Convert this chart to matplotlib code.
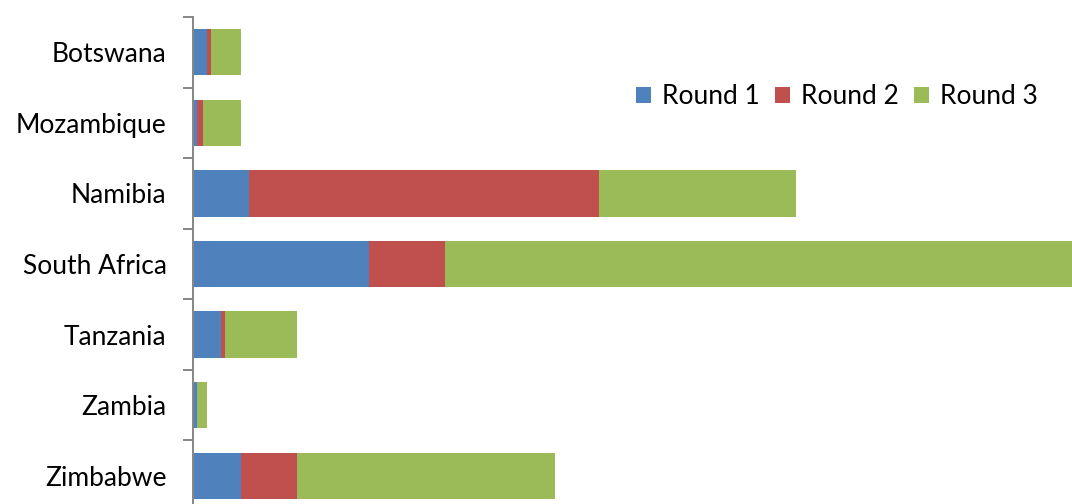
import matplotlib.pyplot as plt
import numpy as np

countries = ["Botswana", "Mozambique", "Namibia", "South Africa", "Tanzania", "Zambia", "Zimbabwe"]
round1 = [3.5, 1.0, 14.0, 44.0, 7.0, 1.0, 12.0]
round2 = [1.0, 1.5, 87.5, 19.0, 1.0, 0.0, 14.0]
round3 = [7.5, 9.5, 49.0, 156.5, 18.0, 2.5, 64.5]
series_names = ["Round 1", "Round 2", "Round 3"]
colors = ["#4F81BD", "#C0504D", "#9BBB59"]

plt.rcParams['font.family'] = ['Lato', 'DejaVu Sans']

fig = plt.figure(figsize=(10.72, 5.04), dpi=100)
ax = fig.add_axes([193 / 1072, 1 - 511 / 504, 1 - 193 / 1072, 494 / 504])

y = np.arange(len(countries))
left = np.zeros(len(countries))
for vals, name, c in zip([round1, round2, round3], series_names, colors):
    ax.barh(y, vals, left=left, height=0.655, color=c, label=name)
    left = left + np.array(vals)

ax.set_xlim(0, left.max())
ax.set_ylim(6.5, -0.5)

ax.set_yticks(y)
ax.set_yticklabels(countries, fontsize=19)
ax.tick_params(axis='y', which='major', length=0, pad=19)
ax.set_yticks(np.arange(-0.5, 7, 1), minor=True)
ax.tick_params(axis='y', which='minor', length=7, width=1.4, color="#868686")
ax.set_xticks([])

for s in ["top", "right", "bottom"]:
    ax.spines[s].set_visible(False)
ax.spines["left"].set_color("#868686")
ax.spines["left"].set_linewidth(1.4)

fig.legend(loc="center left", bbox_to_anchor=(636 / 1072, 1 - 97 / 504), ncol=3,
           frameon=False, fontsize=19, handlelength=0.55, handleheight=0.55,
           handletextpad=0.42, columnspacing=0.6, borderaxespad=0, borderpad=0)

fig.savefig("out.png", dpi=100)
